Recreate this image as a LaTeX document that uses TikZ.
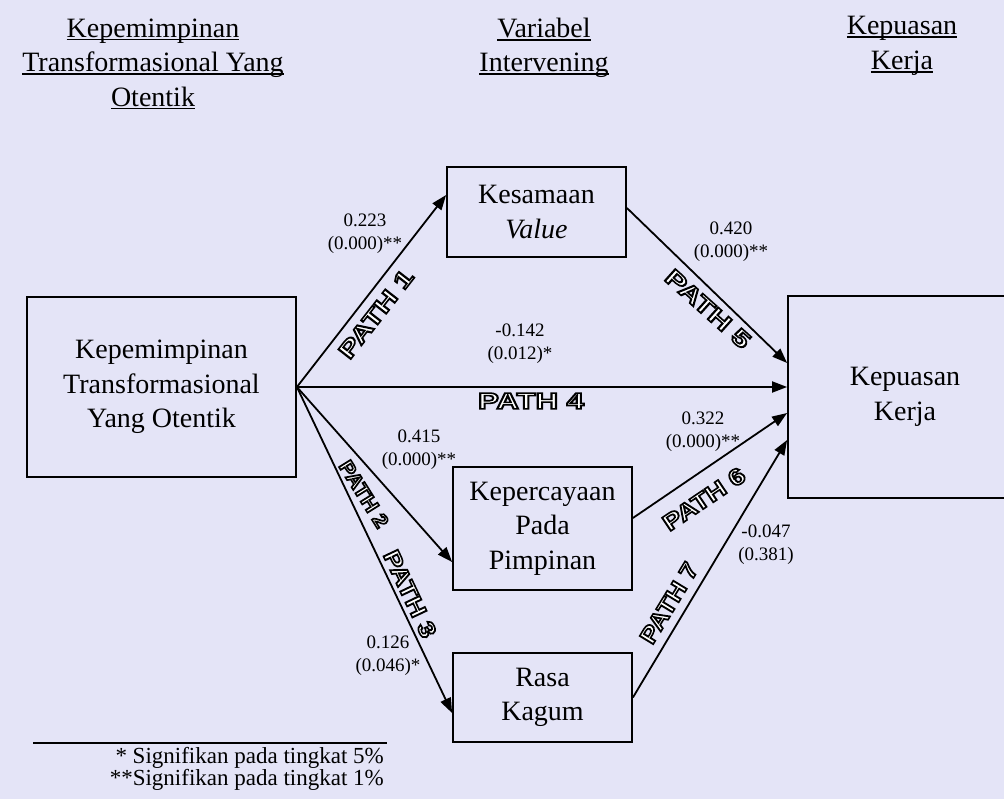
\documentclass[tikz,border=0pt]{standalone}
\usepackage{fontspec}
\setmainfont{Liberation Serif}
\newfontfamily\pathfont{Liberation Sans}
\usepackage{graphicx}
\usetikzlibrary{arrows.meta}
\definecolor{bgc}{RGB}{228,228,247}
\newcommand\hul[1]{\setbox0\hbox{#1}\rlap{\rule[-0.11em]{\wd0}{0.055em}}\box0}
\newcommand\pathtxt[2][1.35]{\scalebox{#1}[1]{\special{pdf:literal direct 2 Tr 1.6 w 0 G 1 g}#2\special{pdf:literal direct 0 Tr 0 g}}}
\begin{document}
\begin{tikzpicture}[x=1pt,y=-1pt,
  varbox/.style={draw, line width=1.8pt, minimum width=179pt, align=center, inner sep=0pt, font=\fontsize{28}{34.5}\selectfont},
  conn/.style={line width=1.8pt, -{Triangle[length=15pt,width=11pt]}},
  lbl/.style={align=center, font=\fontsize{19}{23}\selectfont, inner sep=0pt},
  head/.style={align=center, font=\fontsize{28}{34.5}\selectfont, inner sep=0pt},
  pathlbl/.style={inner sep=0pt, font=\pathfont\bfseries\fontsize{23}{23}\selectfont}]
\fill[bgc] (0,0) rectangle (1004,799);
\useasboundingbox (0,0) rectangle (1004,799);

% headings
\node[head] (h1) at (153,64) {\hul{Kepemimpinan}\\\hul{Transformasional Yang}\\\hul{Otentik}};
\node[head] (h2) at (544,48) {\hul{Variabel}\\\hul{Intervening}};
\node[head] (h3) at (902,46) {\hul{Kepuasan}\\\hul{Kerja}};

% boxes
\node[varbox, minimum width=269pt, minimum height=180pt] (L) at (161.5,387) {Kepemimpinan\\Transformasional\\Yang Otentik};
\node[varbox, minimum height=90pt] (K1) at (536.5,212) {Kesamaan\\\textit{Value}};
\node[varbox, minimum height=123pt] (K2) at (542.5,528.5) {Kepercayaan\\Pada\\Pimpinan};
\node[varbox, minimum height=89pt] (K3) at (542.5,697.5) {Rasa\\Kagum};
\begin{scope}
\clip (0,0) rectangle (1004,799);
\node[varbox, minimum width=234pt, minimum height=202pt] (R) at (905,397) {Kepuasan\\Kerja};
\end{scope}

% connectors
\draw[conn] (L.east) -- ([yshift=17pt]K1.west);
\draw[conn] (L.east) -- (R.west |- L.east);
\draw[conn] ([yshift=4pt]K1.east) -- ([yshift=34pt]R.west);
\draw[conn] (L.east) -- ([yshift=-33.5pt]K2.west);
\draw[conn] (L.east) -- ([yshift=-15.5pt]K3.west);
\draw[conn] ([yshift=10.5pt]K2.east) -- ([yshift=-16pt]R.west);
\draw[conn] (K3.east) -- ([yshift=-43pt]R.west);

% coefficient labels
\node[lbl] (l1) at (365,234) {0.223\\(0.000)**};
\node[lbl] (l5) at (731,242) {0.420\\(0.000)**};
\node[lbl] (l4) at (520,344) {-0.142\\(0.012)*};
\node[lbl] (l2) at (419,450) {0.415\\(0.000)**};
\node[lbl] (l6) at (703,432) {0.322\\(0.000)**};
\node[lbl] (l7) at (766,545) {-0.047\\(0.381)};
\node[lbl] (l3) at (388,656) {0.126\\(0.046)*};

% path labels
\node[pathlbl, rotate=52] (p1) at (376,314) {\pathtxt{PATH 1}};
\node[pathlbl] (p4) at (531,401) {\pathtxt{PATH 4}};
\node[pathlbl, rotate=-41.8] (p5) at (708,309) {\pathtxt{PATH 5}};
\node[pathlbl, rotate=-58, font=\pathfont\bfseries\fontsize{20}{20}\selectfont] (p2) at (364,494) {\pathtxt[1.1]{PATH 2}};
\node[pathlbl, rotate=-64.7] (p3) at (410,594) {\pathtxt[1.2]{PATH 3}};
\node[pathlbl, rotate=34] (p6) at (704,499) {\pathtxt[1.2]{PATH 6}};
\node[pathlbl, rotate=58.7] (p7) at (669,603) {\pathtxt[1.15]{PATH 7}};

% footnote
\coordinate (fa) at (33,743);
\coordinate (fb) at (387,743);
\draw[line width=1.5pt] (fa) -- (fb);
\node[anchor=east, align=right, inner sep=0pt, font=\fontsize{23}{22}\selectfont] (fn) at (384,769) {* Signifikan pada tingkat 5\%\\**Signifikan pada tingkat 1\%};
\end{tikzpicture}
\end{document}
